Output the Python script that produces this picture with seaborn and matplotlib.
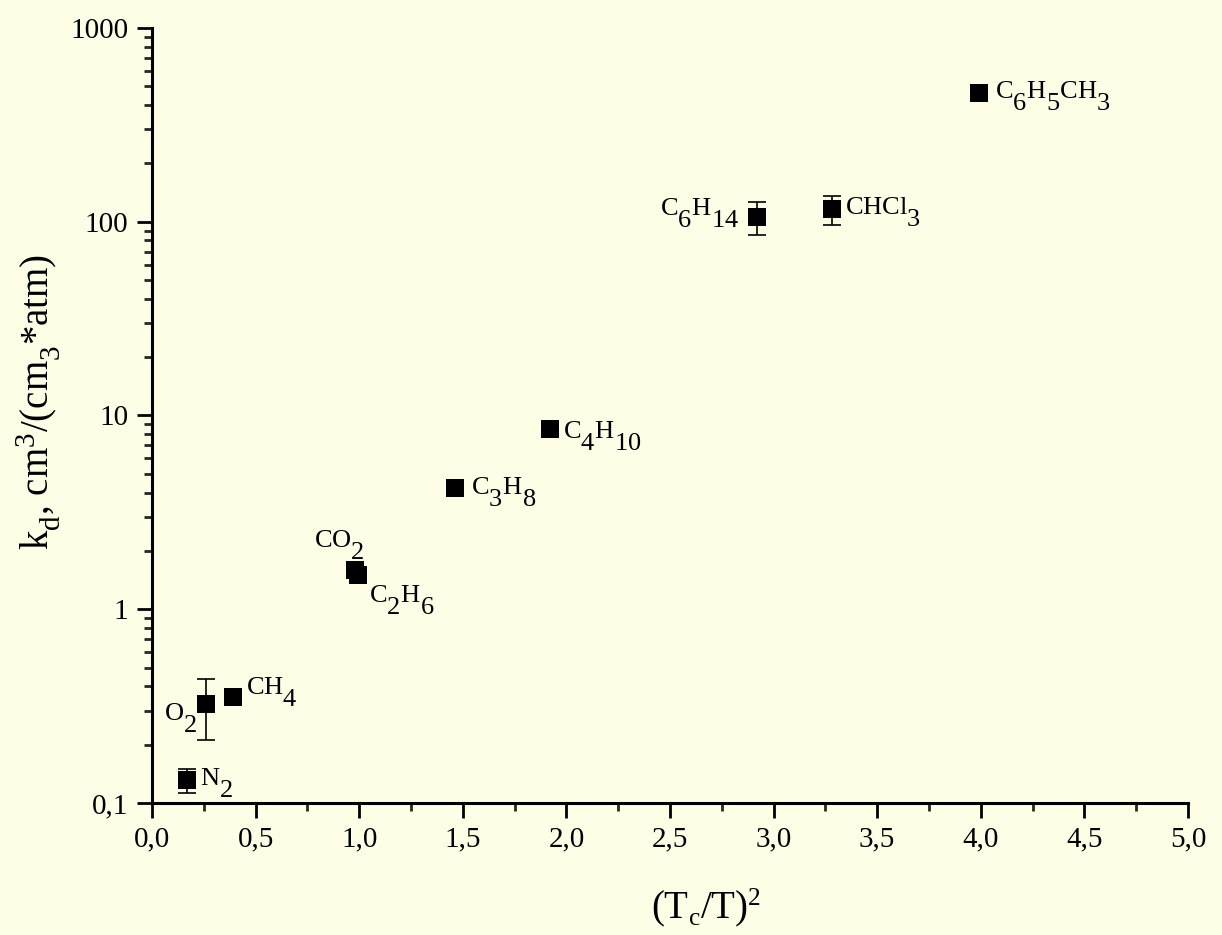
import numpy as np
import pandas as pd
import matplotlib
matplotlib.use("Agg")
import matplotlib.pyplot as plt
import matplotlib.ticker as mticker
import matplotlib._mathtext as _mt
import matplotlib.text as mtext
from matplotlib.mathtext import MathTextParser
import seaborn as sns

# ---- data ----
species = ["N2", "O2", "CH4", "CO2", "C2H6", "C3H8", "C4H10", "C6H14", "CHCl3", "C6H5CH3"]
labels = [r"N$_2$", r"O$_2$", r"CH$_4$", r"CO$_2$", r"C$_2$H$_6$", r"C$_3$H$_8$",
          r"C$_4$H$_{10}$", r"C$_6$H$_{14}$", r"CHCl$_3$", r"C$_6$H$_5$CH$_3$"]
tc_ratio_sq = [0.17, 0.26, 0.39, 0.98, 0.995, 1.46, 1.92, 2.92, 3.28, 3.99]
kd = [0.131, 0.324, 0.352, 1.59, 1.50, 4.22, 8.5, 106, 116, 460]
err_low = [0.113, 0.211, 0.352, 1.59, 1.50, 4.22, 8.5, 85, 96, 460]
err_high = [0.150, 0.437, 0.352, 1.59, 1.50, 4.22, 8.5, 126, 136, 460]
x_ticks = [0.0, 0.5, 1.0, 1.5, 2.0, 2.5, 3.0, 3.5, 4.0, 4.5, 5.0]
y_ticks = [0.1, 1, 10, 100, 1000]
y_tick_labels = ["0,1", "1", "10", "100", "1000"]
# label offsets (points, to text baseline) and alignment
label_offsets = [(9.4, -3.6), (-6.5, -11.5), (9.4, 2), (7, 16.5), (8, -19.5),
                 (11.5, -4.3), (9.4, -6.5), (-13, 1), (9.4, -3.6), (12, -3.3)]
label_ha = ["left", "right", "left", "right", "left", "left", "left", "right", "left", "left"]

df = pd.DataFrame({"species": species, "x": tc_ratio_sq, "kd": kd})


def _clear_text_caches():
    if hasattr(MathTextParser, "_parse_cached") and hasattr(MathTextParser._parse_cached, "cache_clear"):
        MathTextParser._parse_cached.cache_clear()
    f = getattr(mtext, "_get_text_metrics_with_cache_impl", None)
    if f is not None and hasattr(f, "cache_clear"):
        f.cache_clear()


def full_size_scripts(artist, shrink=1.0, sub1=1.0):
    """Draw this text with larger sub/superscripts (as in the original chart)."""
    orig = artist.draw

    def draw(renderer, *a, **k):
        old_s, old_sub = _mt.SHRINK_FACTOR, _mt.FontConstantsBase.sub1
        _mt.SHRINK_FACTOR, _mt.FontConstantsBase.sub1 = shrink, sub1
        _clear_text_caches()
        try:
            return orig(renderer, *a, **k)
        finally:
            _mt.SHRINK_FACTOR, _mt.FontConstantsBase.sub1 = old_s, old_sub
            _clear_text_caches()
    artist.draw = draw


sns.set_theme(style="ticks")
bg = "#FEFDE6"
plt.rcParams.update({
    "font.family": ["Liberation Serif", "DejaVu Serif"],
    "mathtext.fontset": "custom",
    "mathtext.rm": "Liberation Serif",
    "mathtext.it": "Liberation Serif",
    "mathtext.bf": "Liberation Serif",
    "mathtext.default": "regular",
    "figure.facecolor": bg,
    "axes.facecolor": bg,
    "savefig.facecolor": bg,
    "text.color": "black",
    "axes.labelcolor": "black",
})

fig = plt.figure(figsize=(12.22, 9.35), dpi=100)
ax = fig.add_axes([0.1244, 0.1412, 0.8478, 0.8289])

yerr = np.array([np.array(kd) - np.array(err_low), np.array(err_high) - np.array(kd)])
ax.errorbar(tc_ratio_sq, kd, yerr=yerr, fmt="none", ecolor="black", elinewidth=1.2,
            capsize=6.5, capthick=1.2, zorder=2)
sns.scatterplot(data=df, x="x", y="kd", marker="s", s=150, color="black",
                edgecolor="black", linewidth=0, ax=ax, zorder=3)

for lab, xv, yv, off, ha in zip(labels, tc_ratio_sq, kd, label_offsets, label_ha):
    t = ax.annotate(lab, (xv, yv), xytext=off, textcoords="offset points",
                    ha=ha, va="baseline", fontsize=19, color="black")
    full_size_scripts(t)

ax.set_yscale("log")
ax.set_xlim(0, 5)
ax.set_ylim(0.1, 1000)
ax.set_xticks(x_ticks)
ax.set_xticklabels([f"{v:.1f}".replace(".", ",") for v in x_ticks])
ax.xaxis.set_minor_locator(mticker.MultipleLocator(0.25))
ax.set_yticks(y_ticks)
ax.set_yticklabels(y_tick_labels)
ax.yaxis.set_minor_locator(mticker.LogLocator(base=10, subs=np.arange(2, 10)))
ax.yaxis.set_minor_formatter(mticker.NullFormatter())

for s in ["top", "right"]:
    ax.spines[s].set_visible(False)
for s in ["left", "bottom"]:
    ax.spines[s].set_linewidth(2.2)
    ax.spines[s].set_color("black")

ax.tick_params(which="major", length=11, width=2, labelsize=21, colors="black", pad=6)
ax.tick_params(which="minor", length=6, width=2)

ax.set_xlabel(r"(T$_c$/T)$^2$", fontsize=28, color="black")
ax.set_ylabel(r"k$_d$, cm$^3$/(cm$_3$*atm)", fontsize=28, color="black")
ax.xaxis.set_label_coords(0.535, -0.108)
ax.yaxis.set_label_coords(-0.086, 0.518)
full_size_scripts(ax.xaxis.label, shrink=0.65, sub1=0.4)
full_size_scripts(ax.yaxis.label, shrink=0.75, sub1=0.6)

fig.savefig("out.png", dpi=100)
